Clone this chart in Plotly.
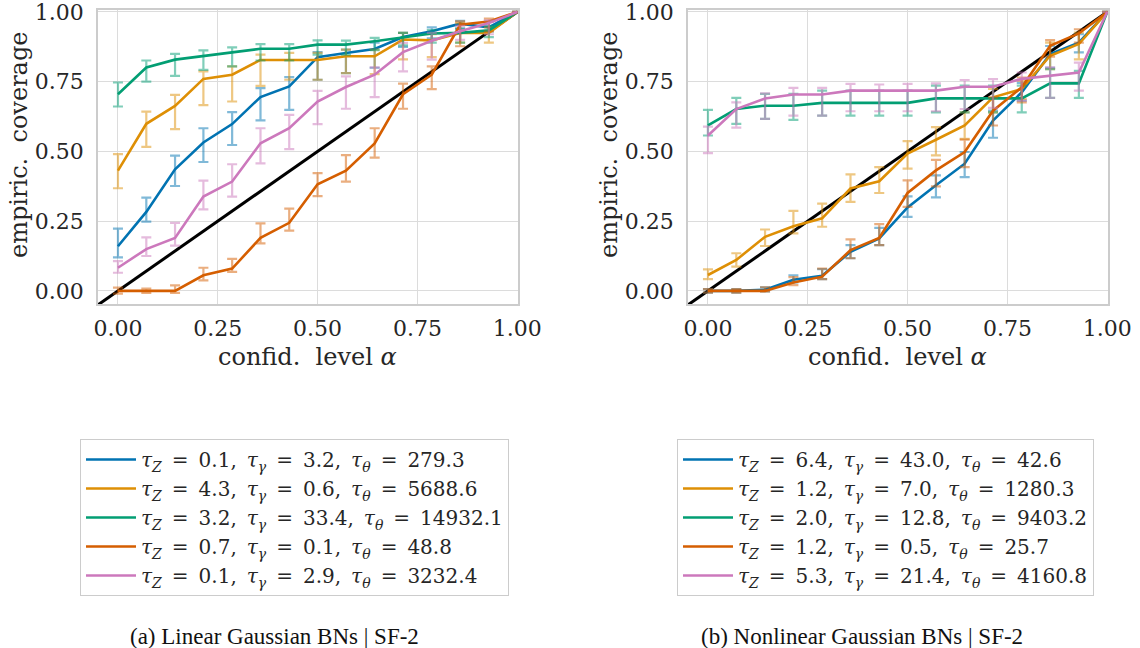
import plotly.graph_objects as go

# ---------------- data ----------------
alpha = [0.0, 0.071, 0.143, 0.214, 0.286, 0.357, 0.429, 0.5, 0.571, 0.643, 0.714, 0.786, 0.857, 0.929, 1.0]
diag = [-0.05, 1.0]

colors = ["#0173b2", "#de8f05", "#029e73", "#d55e00", "#cc78bc"]
err_colors = ["rgba(1,115,178,0.5)", "rgba(222,143,5,0.5)", "rgba(2,158,115,0.5)",
              "rgba(213,94,0,0.5)", "rgba(204,120,188,0.5)"]

# (a) Linear Gaussian BNs
L_blue = [0.160, 0.283, 0.436, 0.532, 0.598, 0.695, 0.733, 0.838, 0.853, 0.867, 0.910, 0.931, 0.958, 0.945, 1.0]
L_blue_lo = [0.120, 0.248, 0.376, 0.462, 0.523, 0.611, 0.649, 0.757, 0.781, 0.800, 0.875, 0.905, 0.940, 0.930, 1.0]
L_blue_hi = [0.223, 0.334, 0.485, 0.583, 0.641, 0.727, 0.766, 0.856, 0.865, 0.890, 0.925, 0.945, 0.968, 0.965, 1.0]

L_orange = [0.431, 0.599, 0.663, 0.760, 0.775, 0.828, 0.828, 0.828, 0.841, 0.841, 0.901, 0.898, 0.925, 0.925, 1.0]
L_orange_lo = [0.368, 0.516, 0.580, 0.666, 0.679, 0.735, 0.757, 0.757, 0.781, 0.777, 0.830, 0.838, 0.890, 0.890, 1.0]
L_orange_hi = [0.490, 0.643, 0.703, 0.787, 0.805, 0.847, 0.853, 0.853, 0.865, 0.865, 0.925, 0.920, 0.960, 0.945, 1.0]

L_green = [0.705, 0.801, 0.829, 0.843, 0.855, 0.868, 0.868, 0.883, 0.883, 0.895, 0.910, 0.923, 0.925, 0.934, 1.0]
L_green_lo = [0.661, 0.750, 0.771, 0.792, 0.805, 0.826, 0.826, 0.847, 0.847, 0.863, 0.880, 0.890, 0.890, 0.910, 1.0]
L_green_hi = [0.747, 0.826, 0.850, 0.862, 0.873, 0.885, 0.885, 0.898, 0.897, 0.907, 0.925, 0.935, 0.940, 0.950, 1.0]

L_red = [0.0, 0.0, 0.0, 0.056, 0.080, 0.190, 0.244, 0.382, 0.431, 0.529, 0.705, 0.775, 0.954, 0.966, 1.0]
L_red_lo = [-0.010, -0.007, -0.007, 0.038, 0.068, 0.170, 0.216, 0.340, 0.392, 0.478, 0.653, 0.723, 0.877, 0.930, 1.0]
L_red_hi = [0.012, 0.008, 0.020, 0.083, 0.115, 0.242, 0.295, 0.422, 0.487, 0.583, 0.743, 0.805, 0.966, 0.976, 1.0]

L_pink = [0.083, 0.150, 0.190, 0.338, 0.392, 0.529, 0.583, 0.679, 0.731, 0.775, 0.856, 0.897, 0.931, 0.960, 1.0]
L_pink_lo = [0.065, 0.125, 0.162, 0.292, 0.338, 0.457, 0.508, 0.598, 0.653, 0.695, 0.787, 0.829, 0.900, 0.920, 1.0]
L_pink_hi = [0.107, 0.192, 0.244, 0.395, 0.454, 0.583, 0.631, 0.717, 0.769, 0.801, 0.889, 0.925, 0.950, 0.970, 1.0]

L_tauZ = ["0.1", "4.3", "3.2", "0.7", "0.1"]
L_tauG = ["3.2", "0.6", "33.4", "0.1", "2.9"]
L_tauT = ["279.3", "5688.6", "14932.1", "48.8", "3232.4"]

# (b) Nonlinear Gaussian BNs
N_blue = [0.0, 0.0, 0.004, 0.040, 0.054, 0.140, 0.188, 0.299, 0.379, 0.456, 0.611, 0.712, 0.849, 0.890, 1.0]
N_blue_lo = [-0.006, -0.006, -0.002, 0.030, 0.042, 0.117, 0.164, 0.265, 0.335, 0.408, 0.549, 0.682, 0.800, 0.855, 1.0]
N_blue_hi = [0.006, 0.006, 0.013, 0.056, 0.078, 0.164, 0.226, 0.339, 0.414, 0.498, 0.646, 0.746, 0.878, 0.920, 1.0]

N_orange = [0.057, 0.111, 0.194, 0.232, 0.260, 0.367, 0.393, 0.492, 0.542, 0.593, 0.694, 0.724, 0.843, 0.885, 1.0]
N_orange_lo = [0.042, 0.087, 0.161, 0.206, 0.230, 0.319, 0.351, 0.438, 0.486, 0.545, 0.640, 0.688, 0.795, 0.830, 1.0]
N_orange_hi = [0.077, 0.135, 0.220, 0.287, 0.313, 0.418, 0.444, 0.537, 0.587, 0.640, 0.724, 0.754, 0.890, 0.926, 1.0]

N_green = [0.593, 0.652, 0.664, 0.664, 0.674, 0.674, 0.674, 0.674, 0.690, 0.690, 0.690, 0.690, 0.744, 0.744, 1.0]
N_green_lo = [0.557, 0.599, 0.617, 0.613, 0.628, 0.628, 0.628, 0.628, 0.640, 0.640, 0.640, 0.640, 0.692, 0.692, 1.0]
N_green_hi = [0.649, 0.692, 0.706, 0.706, 0.718, 0.718, 0.718, 0.718, 0.736, 0.736, 0.736, 0.736, 0.795, 0.789, 1.0]

N_red = [0.0, 0.0, 0.0, 0.030, 0.051, 0.146, 0.190, 0.351, 0.432, 0.498, 0.646, 0.730, 0.879, 0.923, 1.0]
N_red_lo = [-0.006, -0.006, -0.002, 0.021, 0.042, 0.117, 0.164, 0.301, 0.375, 0.444, 0.593, 0.676, 0.840, 0.890, 1.0]
N_red_hi = [0.006, 0.006, 0.013, 0.049, 0.080, 0.185, 0.239, 0.396, 0.470, 0.542, 0.694, 0.765, 0.899, 0.938, 1.0]

N_pink = [0.557, 0.652, 0.690, 0.704, 0.704, 0.718, 0.718, 0.718, 0.718, 0.732, 0.732, 0.760, 0.771, 0.783, 1.0]
N_pink_lo = [0.494, 0.585, 0.617, 0.628, 0.628, 0.644, 0.644, 0.644, 0.644, 0.652, 0.656, 0.682, 0.692, 0.718, 1.0]
N_pink_hi = [0.589, 0.676, 0.708, 0.728, 0.728, 0.742, 0.740, 0.742, 0.744, 0.756, 0.759, 0.783, 0.801, 0.818, 1.0]

N_tauZ = ["6.4", "1.2", "2.0", "1.2", "5.3"]
N_tauG = ["43.0", "7.0", "12.8", "0.5", "21.4"]
N_tauT = ["42.6", "1280.3", "9403.2", "25.7", "4160.8"]

y_ticks = [0.0, 0.25, 0.5, 0.75, 1.0]
x_ticks = [0.0, 0.25, 0.5, 0.75, 1.0]

# ---------------- figure ----------------
W, H = 1140, 648
SERIF = "DejaVu Serif"
TIMES = "Liberation Serif"
TXT = "#262626"
fig = go.Figure()

panels = [
    ("x", "y", "legend",
     [(L_blue, L_blue_lo, L_blue_hi), (L_orange, L_orange_lo, L_orange_hi),
      (L_green, L_green_lo, L_green_hi), (L_red, L_red_lo, L_red_hi),
      (L_pink, L_pink_lo, L_pink_hi)], L_tauZ, L_tauG, L_tauT),
    ("x2", "y2", "legend2",
     [(N_blue, N_blue_lo, N_blue_hi), (N_orange, N_orange_lo, N_orange_hi),
      (N_green, N_green_lo, N_green_hi), (N_red, N_red_lo, N_red_hi),
      (N_pink, N_pink_lo, N_pink_hi)], N_tauZ, N_tauG, N_tauT),
]

SP = "\u2002"
for xa, ya, leg, series, tz, tg, tt in panels:
    fig.add_trace(go.Scatter(x=diag, y=diag, mode="lines", xaxis=xa, yaxis=ya,
                             line=dict(color="black", width=3), showlegend=False,
                             hoverinfo="skip"))
    for i, (ys, lo, hi) in enumerate(series):
        plus = [h - v for h, v in zip(hi, ys)]
        minus = [v - l for v, l in zip(ys, lo)]
        label = (f"<i>τ</i><sub><i>Z</i></sub>{SP}={SP}{tz[i]},{SP}"
                 f"<i>τ</i><sub><i>γ</i></sub>{SP}={SP}{tg[i]},{SP}"
                 f"<i>τ</i><sub><i>θ</i></sub>{SP}={SP}{tt[i]}")
        fig.add_trace(go.Scatter(
            x=alpha, y=ys, mode="lines", xaxis=xa, yaxis=ya, legend=leg,
            name=label, line=dict(color=colors[i], width=2.6),
            error_y=dict(type="data", symmetric=False, array=plus, arrayminus=minus,
                         color=err_colors[i], thickness=2.2, width=5),
        ))

axis_common = dict(
    tickvals=x_ticks, ticktext=[f"{v:.2f}" for v in x_ticks],
    showgrid=True, gridcolor="#dcdcdc", gridwidth=1, zeroline=False,
    showline=True, linecolor="#cccccc", linewidth=1.5, mirror=True,
    ticks="", tickfont=dict(family=SERIF, size=22, color=TXT),
    ticklabeloverflow="allow", automargin=False,
)

dom_left = [98 / W, 518 / W]
dom_right = [688 / W, 1108 / W]
dom_y = [1 - 304 / H, 1 - 10 / H]
xr = [-0.05, 1.002]
yr = [-0.047, 1.007]

leg_common = dict(yanchor="top", xanchor="left", y=1 - 439 / H,
                  bgcolor="white", bordercolor="#cccccc", borderwidth=1,
                  font=dict(family=SERIF, size=20, color=TXT), tracegroupgap=0,
                  itemwidth=50)

fig.update_layout(
    width=W, height=H, margin=dict(l=0, r=0, t=0, b=0, autoexpand=False),
    paper_bgcolor="white", plot_bgcolor="white",
    showlegend=True,
    xaxis=dict(domain=dom_left, anchor="y", range=xr, ticklabelstandoff=4, **axis_common),
    yaxis=dict(domain=dom_y, anchor="x", range=yr, ticklabelstandoff=8, **axis_common),
    xaxis2=dict(domain=dom_right, anchor="y2", range=xr, ticklabelstandoff=4, **axis_common),
    yaxis2=dict(domain=dom_y, anchor="x2", range=yr, ticklabelstandoff=8, **axis_common),
    legend=dict(x=80 / W, **leg_common),
    legend2=dict(x=677 / W, **leg_common),
)

title_font = dict(family=SERIF, size=24, color=TXT)
annos = [
    dict(text="confid.  level <i>α</i>", x=307 / W, y=1 - 357 / H),
    dict(text="confid.  level <i>α</i>", x=897 / W, y=1 - 357 / H),
    dict(text="empiric.  coverage", x=19 / W, y=1 - 145 / H, textangle=-90),
    dict(text="empiric.  coverage", x=609 / W, y=1 - 145 / H, textangle=-90),
]
for a in annos:
    fig.add_annotation(xref="paper", yref="paper", showarrow=False, xanchor="center",
                       yanchor="middle", font=title_font, **a)

cap_font = dict(family=TIMES, size=23, color="#111111")
fig.add_annotation(text="(a) Linear Gaussian BNs | SF-2", x=274 / W, y=1 - 636 / H,
                   xref="paper", yref="paper", showarrow=False, xanchor="center",
                   yanchor="middle", font=cap_font)
fig.add_annotation(text="(b) Nonlinear Gaussian BNs | SF-2", x=862 / W, y=1 - 636 / H,
                   xref="paper", yref="paper", showarrow=False, xanchor="center",
                   yanchor="middle", font=cap_font)

fig.write_html("out.html")
